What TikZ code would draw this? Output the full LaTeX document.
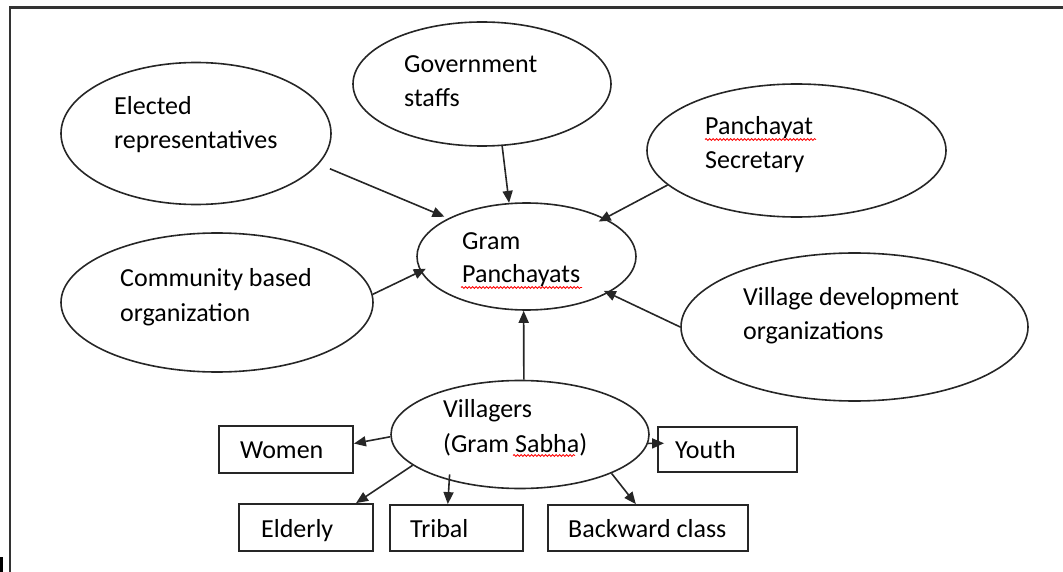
\documentclass[tikz,border=0pt]{standalone}
\usepackage{fontspec}
\setmainfont{Carlito}
\usetikzlibrary{shapes.geometric,arrows.meta,decorations.pathmorphing,calc}
\begin{document}
\begin{tikzpicture}[x=1pt,y=-1pt,
  oval/.style={ellipse,draw=black!85,line width=1.6pt,inner sep=0pt},
  box/.style={rectangle,draw=black!85,line width=1.8pt,inner sep=0pt},
  lbl/.style={anchor=base west,inner sep=0pt,font=\fontsize{26}{31}\selectfont},
  conn/.style={line width=1.6pt,draw=black!85,-{Triangle[length=12pt,width=10pt]}},
  spell/.style={draw=red,line width=0.8pt,decorate,decoration={snake,amplitude=1pt,segment length=3.5pt}}]
\useasboundingbox (0,0) rectangle (1063,572);
% outer frame
\draw[line width=2.5pt,draw=black!80] (10,572) -- (10,7.5) -- (1063,7.5);
\fill[black] (0,557) rectangle (3,572);
% ellipses
\node[oval,minimum width=270pt,minimum height=142pt] (el) at (196,133.5) {};
\node[oval,minimum width=258pt,minimum height=124pt] (gv) at (482,84) {};
\node[oval,minimum width=299pt,minimum height=133pt] (sc) at (796.5,150.5) {};
\node[oval,minimum width=219pt,minimum height=107pt] (gp) at (526.5,256.5) {};
\node[oval,minimum width=312pt,minimum height=139pt] (cb) at (217,302.5) {};
\node[oval,minimum width=347pt,minimum height=148pt] (vd) at (854.5,327) {};
\node[oval,minimum width=258pt,minimum height=108pt] (vl) at (520,434.5) {};
% boxes
\node[box,minimum width=134pt,minimum height=47pt] (wo) at (286,449.5) {};
\node[box,minimum width=139pt,minimum height=45pt] (yo) at (727.5,449.5) {};
\node[box,minimum width=134pt,minimum height=47pt] (ed) at (306,527.5) {};
\node[box,minimum width=133pt,minimum height=46pt] (tr) at (456.5,528) {};
\node[box,minimum width=200pt,minimum height=46pt] (bw) at (648,528) {};
% labels
\node[lbl] (el1) at (114,115) {Elected};
\node[lbl] (el2) at (114,149) {representatives};
\node[lbl] (gv1) at (404,73) {Government};
\node[lbl] (gv2) at (404,107) {staffs};
\node[lbl] (sc1) at (705,135) {Panchayat};
\node[lbl] (sc2) at (705,169) {Secretary};
\node[lbl] (gp1) at (462,250) {Gram};
\node[lbl] (gp2) at (462,283) {Panchayats};
\node[lbl] (cb1) at (120,287) {Community based};
\node[lbl] (cb2) at (120,321) {organization};
\node[lbl] (vd1) at (743,305) {Village development};
\node[lbl] (vd2) at (743,339) {organizations};
\node[lbl] (vl1) at (443,417) {Villagers};
\node[lbl] (vl2) at (443,452) {(Gram Sabha)};
\node[lbl] (wol) at (240,458) {Women};
\node[lbl] (yol) at (675,458) {Youth};
\node[lbl] (edl) at (261,537) {Elderly};
\node[lbl] (trl) at (410,537) {Tribal};
\node[lbl] (bwl) at (568,537) {Backward class};
% spell-check underlines
\draw[spell] (705,139.5) -- (816,139.5);
\draw[spell] (461,287.5) -- (582,287.5);
\draw[spell] (513,455.5) -- (575,455.5);
% connectors
\draw[conn,shorten <=12pt,shorten >=4pt] (el.-14) -- (gp.154.7);
\draw[conn] (gv.-72.1) -- (gp.108.1);
\draw[conn,shorten >=-7pt] (sc.195.9) -- (gp.26.2);
\draw[conn,shorten >=-6pt] (cb.3.85) -- (gp.188.4);
\draw[conn,shorten >=-5pt] (vd.180.7) -- (gp.-24.2);
\draw[conn] (vl.86.8) -- (gp.-93.6);
\draw[conn] (vl.181.6) -- (wo.5.5);
\draw[conn,shorten >=-7pt] (vl.-4.2) -- (yo.175);
\draw[conn] (vl.196.2) -- (ed.26.6);
\draw[conn,shorten <=-6pt] (vl.213.5) -- (tr.110.8);
\draw[conn] (vl.-23.7) -- (bw.117.5);
\end{tikzpicture}
\end{document}
